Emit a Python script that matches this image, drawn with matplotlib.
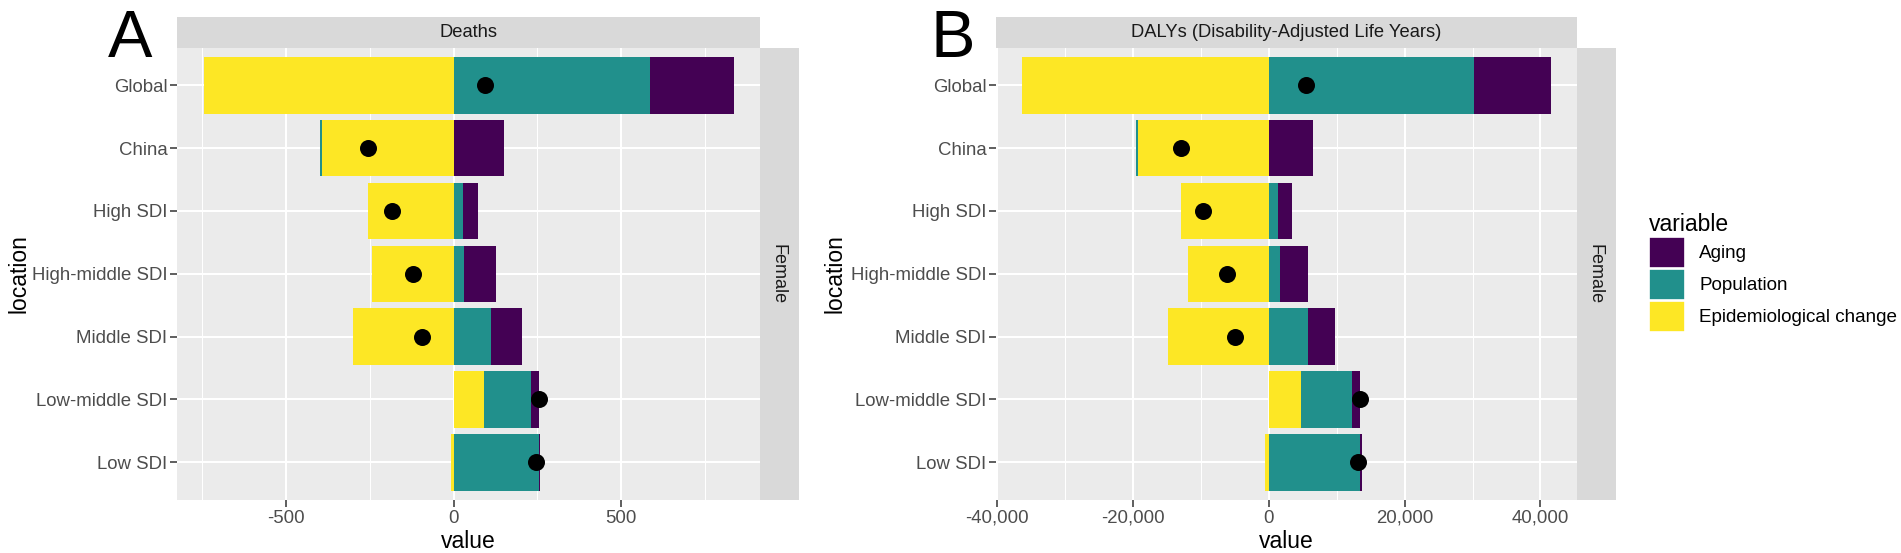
import matplotlib
matplotlib.use("Agg")
import matplotlib.pyplot as plt
from matplotlib.patches import Patch
from matplotlib.ticker import FuncFormatter, MultipleLocator
import numpy as np

plt.rcParams['font.family'] = ['Liberation Sans', 'DejaVu Sans']
plt.rcParams['axes.unicode_minus'] = False

# ---------------- data ----------------
locations = ["Global", "China", "High SDI", "High-middle SDI", "Middle SDI",
             "Low-middle SDI", "Low SDI"]
variables = ["Aging", "Population", "Epidemiological change"]
colors = {"Aging": "#440154", "Population": "#21908C",
          "Epidemiological change": "#FDE725"}

# Panel A: Deaths
deaths_epi = [-746, -393, -254, -243, -300, 91, -9]
deaths_pop = [587, -5, 28, 30, 111, 141, 254]
deaths_aging = [248, 149, 44, 96, 94, 22, 4]
deaths_total = [94, -254, -183, -121, -94, 254, 247]

# Panel B: DALYs
dalys_epi = [-36300, -19300, -12950, -11850, -14900, 4800, -550]
dalys_pop = [30200, -200, 1350, 1600, 5800, 7500, 13450]
dalys_aging = [11300, 6500, 2000, 4150, 4000, 1100, 300]
dalys_total = [5400, -12900, -9650, -6100, -5000, 13400, 13200]

W, H = 1901, 553
fig = plt.figure(figsize=(W / 100, H / 100), dpi=100)

STRIP = "#D9D9D9"
PANEL = "#EBEBEB"
TICKC = "#4D4D4D"


def fbox(x0, y0, x1, y1):
    return [x0 / W, 1 - y1 / H, (x1 - x0) / W, (y1 - y0) / H]


def draw_panel(px0, px1, epi, pop, aging, total, title, major, minor, fmt, letter, letter_x, ylab_x):
    top, bottom = 47.6, 500
    ax = fig.add_axes(fbox(px0, top, px1, bottom))
    ax.set_facecolor(PANEL)
    n = len(locations)
    y = np.arange(n)
    series = [("Epidemiological change", epi), ("Population", pop), ("Aging", aging)]
    pos_base = np.zeros(n)
    neg_base = np.zeros(n)
    for name, vals in series:
        vals = np.asarray(vals, dtype=float)
        left = np.where(vals >= 0, pos_base, neg_base)
        ax.barh(y, vals, left=left, height=0.9, color=colors[name], linewidth=0, zorder=2)
        pos_base = pos_base + np.where(vals >= 0, vals, 0)
        neg_base = neg_base + np.where(vals < 0, vals, 0)
    ax.scatter(total, y, s=150, color="black", zorder=3, linewidths=0)
    lo = min(neg_base.min(), min(total))
    hi = max(pos_base.max(), max(total))
    pad = (hi - lo) * 0.05
    ax.set_xlim(lo - pad, hi + pad)
    ax.set_ylim(n - 0.4, -0.6)
    ax.set_yticks(y)
    ax.set_yticklabels(locations)
    ax.xaxis.set_major_locator(MultipleLocator(major))
    ax.xaxis.set_minor_locator(MultipleLocator(minor))
    ax.xaxis.set_major_formatter(FuncFormatter(fmt))
    ax.grid(which="major", color="white", linewidth=1.5, zorder=0)
    ax.grid(which="minor", axis="x", color="white", linewidth=0.75, zorder=0)
    ax.set_axisbelow(True)
    for s in ax.spines.values():
        s.set_visible(False)
    ax.tick_params(axis="both", which="major", length=5, width=1.1, color="#333333",
                   labelsize=13.4, labelcolor=TICKC, pad=2)
    ax.tick_params(axis="x", which="minor", length=0)
    ax.set_xlabel("value", fontsize=16.5, color="black")
    ax.set_ylabel("location", fontsize=16.5, color="black")
    ax.xaxis.set_label_coords(0.5, -(530 - bottom) / (bottom - top))
    ax.yaxis.set_label_coords(-(px0 - ylab_x) / (px1 - px0), 0.5)

    # top strip
    st = fig.add_axes(fbox(px0, 16.6, px1, 47.6))
    st.set_facecolor(STRIP)
    st.set_xticks([]); st.set_yticks([])
    for s in st.spines.values():
        s.set_visible(False)
    st.text(0.5, 0.5, title, ha="center", va="center", fontsize=13.2, color="#1A1A1A",
            transform=st.transAxes)
    # right strip
    rs = fig.add_axes(fbox(px1, top, px1 + 39, bottom))
    rs.set_facecolor(STRIP)
    rs.set_xticks([]); rs.set_yticks([])
    for s in rs.spines.values():
        s.set_visible(False)
    rs.text(0.45, 0.5, "Female", ha="center", va="center", fontsize=13, color="#1A1A1A",
            rotation=-90, transform=rs.transAxes)
    fig.text(letter_x / W, 1 - 57 / H, letter, fontsize=48, color="black",
             ha="left", va="baseline")
    return ax


draw_panel(177, 760, deaths_epi, deaths_pop, deaths_aging, deaths_total, "Deaths",
           500, 250, lambda v, p: f"{v:.0f}", "A", 108, 30)
draw_panel(996, 1577, dalys_epi, dalys_pop, dalys_aging, dalys_total,
           "DALYs (Disability-Adjusted Life Years)",
           20000, 10000, lambda v, p: f"{v:,.0f}", "B", 930, 846)

handles = [Patch(facecolor=colors[v], edgecolor="white", linewidth=1.2) for v in variables]
fig.legend(handles, variables, loc="upper left", bbox_to_anchor=(1649 / W, 1 - 213 / H),
           frameon=False, title="variable", title_fontsize=16.5, fontsize=13.6,
           handlelength=1.9, handleheight=2.15, labelspacing=0.05, handletextpad=0.75,
           borderaxespad=0, borderpad=0, alignment="left")

fig.savefig("out.png", dpi=100, facecolor="white")
